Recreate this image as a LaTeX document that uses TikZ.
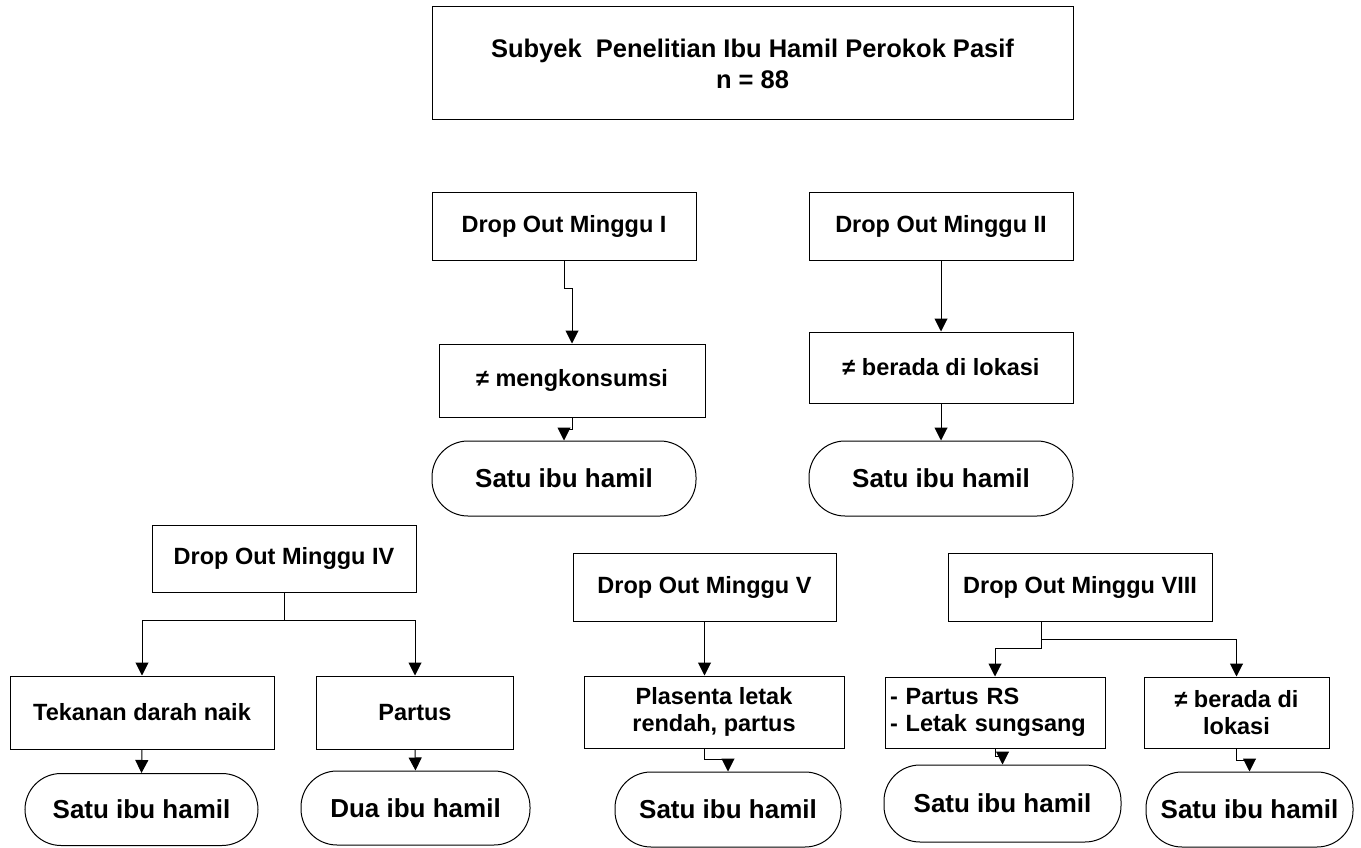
\documentclass[tikz,border=0pt]{standalone}
\usepackage{fontspec}
\setmainfont{Liberation Sans}
\usepackage{tikz}
\usetikzlibrary{arrows.meta}

\begin{document}
\begin{tikzpicture}[x=1pt, y=-1pt, line width=1pt,
    box/.style={draw, rectangle, align=center, inner sep=2pt, font=\fontsize{23.5}{27}\selectfont\bfseries},
    term/.style={draw, rectangle, rounded corners=36pt, align=center, inner sep=2pt, font=\fontsize{26}{30}\selectfont\bfseries},
    arr/.style={-{Triangle[length=13pt, width=13pt]}}]
  \useasboundingbox (0,0) rectangle (1361,848);
  \node [box, minimum width=641pt, minimum height=113pt, font=\fontsize{25.5}{31}\selectfont\bfseries] (top) at (752.5, 63.5) {Subyek\ \ Penelitian Ibu Hamil Perokok Pasif\\n = 88};
  % minggu I
  \node [box, minimum width=264pt, minimum height=67pt] (do1) at (564, 226.5) {Drop Out Minggu I};
  \node [box, minimum width=266pt, minimum height=73pt] (kons) at (572, 380.5) {≠ mengkonsumsi};
  \node [term, minimum width=264pt, minimum height=75pt] (t1) at (564, 478.5) {Satu ibu hamil};
  % minggu II
  \node [box, minimum width=264pt, minimum height=67pt] (do2) at (941, 226.5) {Drop Out Minggu II};
  \node [box, minimum width=264pt, minimum height=71pt] (lok) at (941, 367.5) {≠ berada di lokasi};
  \node [term, minimum width=264pt, minimum height=75pt] (t2) at (941, 478.5) {Satu ibu hamil};
  % minggu IV
  \node [box, minimum width=264pt, minimum height=67pt] (do4) at (284, 558.5) {Drop Out Minggu IV};
  \node [box, minimum width=264pt, minimum height=73pt] (tek) at (142, 712.5) {Tekanan darah naik};
  \node [box, minimum width=197pt, minimum height=73pt] (par) at (415, 712.5) {Partus};
  \node [term, minimum width=233pt, minimum height=72pt] (t3) at (141.5, 809.5) {Satu ibu hamil};
  \node [term, minimum width=229pt, minimum height=74pt] (t4) at (415.5, 808) {Dua ibu hamil};
  % minggu V
  \node [box, minimum width=263pt, minimum height=68pt] (do5) at (704.5, 587) {Drop Out Minggu V};
  \node [box, minimum width=260pt, minimum height=72pt] (pla) at (714, 712) {Plasenta letak\\rendah, partus};
  \node [term, minimum width=226pt, minimum height=75pt] (t5) at (728, 809.5) {Satu ibu hamil};
  % minggu VIII
  \node [box, minimum width=264pt, minimum height=68pt] (do8) at (1080, 587) {Drop Out Minggu VIII};
  \node [box, minimum width=220pt, minimum height=71pt, text width=210pt, align=left] (prs) at (995, 712.5) {- Partus RS\\- Letak sungsang};
  \node [box, minimum width=185pt, minimum height=71pt] (lok2) at (1236.5, 712.5) {≠ berada di\\lokasi};
  \node [term, minimum width=237pt, minimum height=77pt] (t6) at (1002.5, 803.5) {Satu ibu hamil};
  \node [term, minimum width=207pt, minimum height=75pt] (t7) at (1249.5, 809.5) {Satu ibu hamil};

  \draw [arr] (do1.south) -- ++(0,28) -| (kons.north);
  \draw [arr] (kons.south) -- ++(0,12) -| (t1.north);
  \draw [arr] (do2.south) -- (lok.north);
  \draw [arr] (lok.south) -- (t2.north);
  \draw (do4.south) -- ++(0,28) coordinate (j4);
  \draw [arr] (j4) -| (tek.north);
  \draw [arr] (j4) -| (par.north);
  \draw [arr] (tek.south) -- (t3.north);
  \draw [arr] (par.south) -- (t4.north);
  \draw [arr] (do5.south) -- (do5.south |- pla.north);
  \draw [arr] (do5.south |- pla.south) -- ++(0,11) -| (t5.north);
  \draw ([xshift=-39pt]do8.south) -- ++(0,27) coordinate (j8);
  \draw [arr] (j8) -| (prs.north);
  \draw [arr] ([xshift=-39pt]do8.south) ++(0,18) -| (lok2.north);
  \draw [arr] (prs.south) -- ++(0,8) -| (t6.north);
  \draw [arr] (lok2.south) -- ++(0,12) -| (t7.north);
\end{tikzpicture}
\end{document}
